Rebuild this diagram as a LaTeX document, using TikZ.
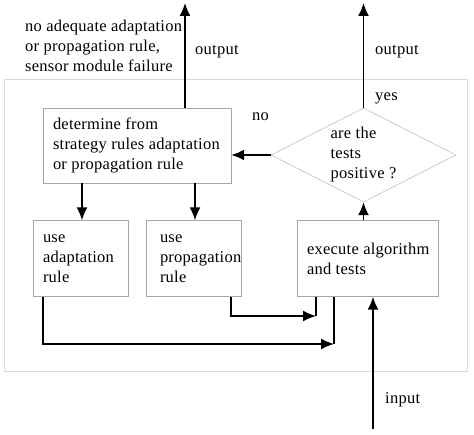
\documentclass[tikz,border=0pt]{standalone}
\usepackage{fontspec}
\setmainfont{Liberation Serif}[LetterSpace=1.5]
\usetikzlibrary{arrows.meta,shapes.geometric}

\begin{document}
\begin{tikzpicture}[x=1pt,y=-1pt,>={Latex[length=13pt,width=11pt]},
  every node/.style={font=\fontsize{16.5}{20}\selectfont},
  box/.style={draw=gray!70,rectangle,align=flush left,minimum height=76pt,inner ysep=0pt},
  test/.style={draw=gray!70,diamond,align=flush left,inner sep=0pt,shape aspect=2,minimum width=185pt,minimum height=94pt},
  label/.style={anchor=west,align=left,inner sep=0pt},
  flow/.style={line width=1.6pt}]
\useasboundingbox (0,0) rectangle (474,435);
\draw[gray!30,line width=1pt] (4.5,80) rectangle (467,372);
\node[box,text width=168pt,inner xsep=10pt,minimum height=75pt] (det)   at (137,145.5) {determine from\\\mbox{strategy rules adaptation}\\or propagation rule};
\node[box,text width=75pt,inner xsep=10pt]   (adapt) at (80.5,258.5)  {use\\\mbox{adaptation}\\rule};
\node[box,text width=67pt,inner xsep=14pt]   (prop)  at (193.5,258.5) {use\\\mbox{propagation}\\rule};
\node[box,text width=121pt,inner xsep=10pt]  (exec)  at (367.5,258.5) {\mbox{execute algorithm}\\and tests};
\node[test]                                  (dia)   at (363.5,155)   {are the\\tests\\positive ?};
\coordinate (out1) at (185,3);
\coordinate (out2) at (363.5,3);
\coordinate (in)   at (373,429);
\coordinate (j1)   at (316,316);
\coordinate (j2)   at (334,344);
\node[label] (fail)  at (25,45.5) {no adequate adaptation\\or propagation rule,\\sensor module failure};
\node[label] (lout1) at (195,52)  {output};
\node[label] (lout2) at (375,52)  {output};
\node[label] (lyes)  at (375,98)  {yes};
\node[label] (lno)   at (252,117) {no};
\node[label] (lin)   at (385,400) {input};
\draw[->,flow] (out1 |- det.north) -- (out1);
\draw[->,flow] (dia.north) -- (out2);
\draw[->,flow] (dia.west) -- (dia.west -| det.east);
\draw[->,flow] (82,0 |- det.south) -- (82,0 |- adapt.north);
\draw[->,flow] (195,0 |- det.south) -- (195,0 |- prop.north);
\draw[->,flow] (dia.south |- exec.north) -- (dia.south);
\draw[->,flow] ([xshift=-10pt]prop.south east) |- (j1);
\draw[flow]    (j1) -- (j1 |- exec.south);
\draw[->,flow] ([xshift=10pt]adapt.south west) |- (j2);
\draw[flow]    (j2) -- (j2 |- exec.south);
\draw[->,flow] (in) -- (in |- exec.south);
\end{tikzpicture}
\end{document}
